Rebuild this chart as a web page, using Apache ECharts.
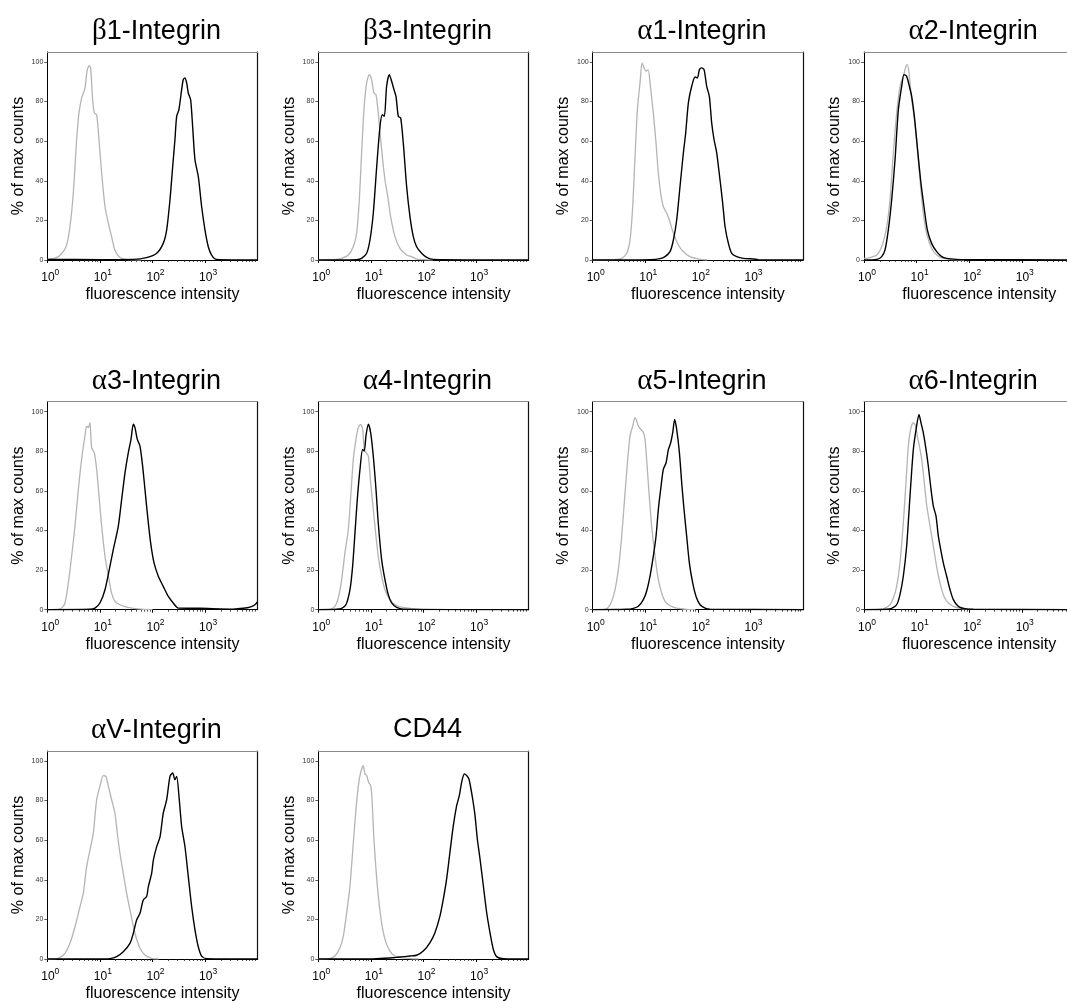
<!DOCTYPE html>
<html><head><meta charset="utf-8">
<script src="https://cdn.jsdelivr.net/npm/echarts@6/dist/echarts.min.js"></script>
<style>html,body{margin:0;padding:0;background:#fff}#c{width:1067px;height:1001px}</style>
</head><body><div id="c"></div>
<script>
// ---------- DATA ----------
const titles = ['β1-Integrin','β3-Integrin','α1-Integrin','α2-Integrin','α3-Integrin','α4-Integrin','α5-Integrin','α6-Integrin','αV-Integrin','CD44'];
const xMajorTicks = [1, 10, 100, 1000];
const xMinorTicks = [2,3,4,5,6,7,8,9,20,30,40,50,60,70,80,90,200,300,400,500,600,700,800,900,2000,3000,4000,5000,6000,7000,8000,9000];
const yTicks = [0, 20, 40, 60, 80, 100];

// [fluorescence intensity, % of max counts]; control = grey, stained = black
const beta1Control = [[1,0.3],[1.3,0.7],[1.62,1.7],[2.01,4.2],[2.33,7.6],[2.7,16.9],[3.12,33.7],[3.61,60.7],[4.0,74.2],[4.5,81.8],[5.2,86.8],[5.75,96.1],[6.28,98.1],[6.67,97.0],[7.28,80.9],[7.83,74.2],[8.67,73.4],[9.6,60.7],[10.8,43.8],[12.5,27.0],[14.5,18.5],[16.7,11.8],[19.3,5.1],[24,1.3],[32.2,0.3],[60,0]];
const beta1Stained = [[1,0.3],[10,0.2],[43,0.3],[77,1.2],[120,3.4],[160,8.4],[186,15.2],[215,30.4],[242,47.2],[267,60.7],[288,72.5],[318,75.9],[358,86.0],[385,91.1],[414,91.9],[446,89.4],[479,84.3],[531,80.9],[579,67.5],[642,50.6],[742,42.2],[859,27.0],[994,15.2],[1150,6.7],[1331,2.5],[1656,0.3],[10000,0]];
const beta3Control = [[1,0],[2.23,0.3],[2.78,0.8],[3.72,2.5],[4.63,6.7],[5.35,13.5],[6.02,30.4],[6.66,54.0],[7.38,75.9],[8.3,89.4],[9.32,93.6],[10.3,91.1],[11.4,84.3],[12.5,83.5],[13.8,74.2],[16.0,55.6],[18.5,40.5],[21.4,30.4],[23.7,21.9],[28.7,11.8],[35.7,5.9],[47.8,2.5],[59.5,1.7],[74,0.5],[99,0.2],[150,0]];
const beta3Stained = [[1,0],[5.35,0.2],[6.66,0.8],[8.3,3.4],[9.6,10.1],[11.1,23.6],[12.9,47.2],[14.9,67.5],[16.5,73.4],[18.0,72.5],[19.9,87.7],[22.4,93.6],[24.8,90.2],[27.5,86.0],[30.0,82.6],[33.2,72.5],[36.8,71.7],[41.3,59.0],[47.8,37.1],[55.3,21.9],[64,11.8],[74,6.7],[92.2,3.4],[115,1.3],[153,0.3],[10000,0]];
const alpha1Control = [[1,0],[2.86,0.3],[3.56,0.8],[4.43,3.4],[5.13,10.1],[5.76,27.0],[6.38,52.3],[7.07,75.9],[7.94,89.4],[8.67,99.5],[9.46,97.0],[10.3,95.3],[11.3,96.1],[12.3,89.4],[14.2,74.2],[16.0,59.0],[17.7,43.8],[19.6,33.7],[22.0,27.0],[25.5,23.6],[28.7,20.2],[34.2,13.5],[42.6,7.6],[52.9,4.2],[70.8,1.7],[110,0.3],[150,0]];
const alpha1Stained = [[1,0],[12.3,0.2],[19.1,0.7],[23.7,1.7],[29.5,4.2],[34.2,10.1],[39.5,20.2],[45.7,37.1],[52.9,54.0],[58.6,64.1],[65.9,79.3],[76.2,87.7],[88.3,92.4],[97.7,91.9],[107,96.1],[118,97.0],[131,96.1],[147,87.7],[165,82.6],[183,69.1],[203,60.7],[228,54.0],[263,40.5],[296,28.7],[328,16.9],[380,8.4],[439,3.4],[547,1.7],[731,0.8],[1132,0.5],[1408,0.2],[10000,0]];
const alpha2Control = [[1,0.8],[1.3,1.2],[1.74,2.5],[2.17,6.7],[2.7,16.9],[3.12,30.4],[3.61,54.0],[4.18,74.2],[4.83,87.7],[5.59,92.7],[6.28,97.8],[6.67,98.6],[7.17,94.4],[8.06,80.9],[8.93,72.5],[10.0,60.7],[11.6,40.5],[13.4,23.6],[15.5,13.5],[19.3,5.9],[24.1,2.5],[32.2,0.8],[49.9,0.2],[80,0]];
const alpha2Stained = [[1,0],[1.74,0.3],[2.17,1.7],[2.51,5.1],[2.9,15.2],[3.36,30.4],[3.89,50.6],[4.5,75.9],[5.2,87.7],[5.76,93.6],[6.47,92.7],[7.28,87.7],[8.06,82.6],[9.06,72.5],[10.3,57.3],[11.9,40.5],[13.8,27.0],[16.0,15.2],[19.3,8.4],[24.1,4.2],[30,1.7],[37.3,0.8],[57.8,0.3],[89.5,0.2],[10000,0]];
const alpha3Control = [[1,0],[1.62,0.3],[1.87,0.8],[2.17,3.4],[2.51,13.5],[2.9,27.0],[3.36,42.2],[3.89,60.7],[4.49,75.9],[5.2,87.7],[5.59,92.7],[6.02,91.9],[6.47,94.4],[6.96,81.8],[7.83,79.3],[8.67,70.8],[9.75,55.6],[10.8,42.2],[12.5,27.0],[14.5,16.9],[16.7,8.4],[19.3,4.2],[24,2.5],[32.2,1.3],[43.2,0.7],[66.8,0.2],[100,0]];
const alpha3Stained = [[1,0],[6.47,0.2],[8.06,0.8],[10,3.4],[12.5,10.1],[15.5,21.9],[18,30.4],[22.4,42.2],[25.9,55.6],[30,69.1],[34.7,79.3],[39,86.0],[43.2,93.6],[46.4,91.9],[51.4,86.0],[57.8,82.6],[64.9,72.5],[71.9,60.7],[80.8,47.2],[92.2,33.7],[107,23.6],[129,16.9],[160,11.8],[200,6.7],[248,3.4],[309,0.8],[798,0.7],[3436,0.3],[5321,0.7],[7129,1.3],[8878,2.5],[10000,4.0]];
const alpha4Control = [[1,0],[1.67,0.2],[2.07,1.7],[2.4,5.9],[2.78,15.2],[3.21,28.7],[3.72,40.5],[4.18,59.0],[4.63,75.9],[5.2,86.0],[5.76,91.9],[6.38,93.6],[6.96,91.1],[7.49,80.9],[8.06,79.3],[8.93,77.6],[9.89,64.1],[11.1,50.6],[12.5,37.1],[13.8,27.0],[16.0,16.9],[18.5,10.1],[23.0,5.1],[28.7,2.5],[38.4,1.3],[55.3,0.7],[85.7,0.2],[120,0]];
const alpha4Stained = [[1,0],[2.23,0.2],[2.78,0.7],[3.36,2.5],[4.0,10.1],[4.49,21.9],[4.98,38.8],[5.51,55.6],[6.2,70.8],[6.96,80.9],[7.49,80.1],[8.06,87.7],[8.93,93.6],[9.89,89.4],[11.1,77.6],[12.5,60.7],[13.8,43.8],[16.0,25.3],[18.5,15.2],[21.4,7.6],[24.8,3.4],[30.9,1.2],[41.3,0.3],[10000,0]];
const alpha5Control = [[1,0],[1.72,0.2],[1.99,1.3],[2.3,4.2],[2.66,10.1],[3.07,20.2],[3.56,37.1],[4.12,59.0],[4.63,75.9],[5.13,87.7],[5.76,92.7],[6.38,97.0],[6.87,95.3],[7.38,92.7],[8.18,91.1],[9.19,89.4],[9.89,86.0],[10.6,75.9],[11.9,57.3],[13.2,42.2],[15.3,27.0],[17.7,15.2],[20.5,8.4],[23.7,4.2],[29.5,2.0],[39.5,0.8],[61.2,0.2],[90,0]];
const alpha5Stained = [[1,0],[4.43,0.2],[5.93,0.7],[7.38,1.7],[9.19,5.1],[10.6,9.3],[12.3,16.9],[14.2,27.0],[16.0,37.1],[17.7,50.6],[19.6,60.7],[22.0,70.8],[24.8,74.2],[27.5,80.9],[30.4,84.3],[33.2,89.4],[36.2,96.1],[39.5,91.1],[44.5,79.3],[49.2,64.1],[54.5,50.6],[61.2,37.1],[68.8,23.6],[79.6,13.5],[92.2,6.7],[110,2.5],[137,0.8],[170,0.3],[10000,0]];
const alpha6Control = [[1,0],[2.01,0.2],[2.51,0.8],[3.12,2.5],[3.61,5.9],[4.18,11.8],[4.83,23.6],[5.59,43.8],[6.28,64.1],[6.96,82.6],[7.71,91.1],[8.67,94.4],[9.6,92.7],[10.3,87.7],[11.3,82.6],[12.5,75.9],[13.8,65.8],[15.5,53.1],[18.0,42.2],[20.8,32.0],[24.0,21.9],[27.8,13.5],[33.2,6.7],[40.1,3.4],[49.9,1.7],[66.8,0.7],[104,0.2],[150,0]];
const alpha6Stained = [[1,0],[2.7,0.2],[3.36,0.7],[4.18,2.5],[4.83,7.6],[5.59,16.9],[6.47,32.0],[7.49,57.3],[8.67,80.9],[10.0,92.7],[11.1,98.6],[12.1,94.4],[13.4,89.4],[15.1,80.9],[16.7,72.5],[18.8,60.7],[20.8,52.3],[23.4,47.2],[25.9,37.1],[28.7,30.4],[32.2,23.6],[37.3,16.9],[43.2,10.1],[49.9,5.1],[62.1,1.7],[83.2,0.5],[120,0.2],[10000,0]];
const alphaVControl = [[1,0],[1.5,0.2],[1.74,0.8],[2.17,2.9],[2.7,7.9],[3.36,16.3],[4.18,26.3],[4.83,33.1],[5.59,46.5],[6.47,55.0],[7.49,63.4],[8.67,80.4],[10.0,87.2],[11.6,92.6],[13.0,92.2],[14.5,87.2],[16.7,80.4],[19.3,73.7],[21.4,63.6],[24.0,53.5],[27.8,43.3],[32.2,33.2],[38.4,23.1],[46.4,13.0],[57.8,5.4],[71.9,2.0],[96.3,0.3],[130,0]];
const alphaVStained = [[1,0],[10,0],[15.5,0.2],[20.8,1.2],[27.8,3.7],[37.3,7.9],[43.2,13.0],[49.9,19.7],[57.8,23.1],[66.8,29.8],[77.4,31.5],[83.2,36.4],[96.3,43.2],[104,50.0],[120,56.7],[139,61.7],[160,73.5],[186,80.4],[215,92.2],[242,93.9],[267,90.5],[288,92.2],[323,80.4],[358,66.9],[414,56.8],[479,41.6],[555,26.5],[642,14.7],[742,6.2],[859,1.5],[1069,0.2],[10000,0]];
const cd44Control = [[1,0],[1.67,0.3],[2.07,1.5],[2.58,5.7],[2.99,11.5],[3.46,23.3],[4.0,36.8],[4.63,58.7],[5.2,75.5],[5.76,87.3],[6.38,94.1],[7.17,97.6],[7.71,93.4],[8.3,92.6],[9.06,89.2],[9.89,87.5],[10.5,80.9],[11.4,60.7],[12.9,40.5],[14.5,26.9],[16.7,15.2],[19.3,8.4],[23.0,4.0],[28.7,1.5],[38.4,0.7],[55.3,0.2],[80,0]];
const cd44Stained = [[1,0],[9.6,0],[14.9,0.3],[23.0,0.5],[30.9,0.8],[41.3,1.2],[55.3,1.5],[74,1.9],[99.1,4.0],[133,8.3],[165,13.3],[206,21.8],[238,30.2],[275,40.3],[318,53.8],[369,67.3],[427,77.4],[480,82.5],[531,89.2],[597,93.4],[661,92.6],[731,90.9],[787,86.7],[859,80.9],[953,72.5],[1054,60.7],[1186,50.6],[1371,37.1],[1585,23.6],[1836,13.3],[2123,4.9],[2455,1.2],[3289,0.2],[10000,0]];

const controlSeries = [beta1Control, beta3Control, alpha1Control, alpha2Control, alpha3Control, alpha4Control, alpha5Control, alpha6Control, alphaVControl, cd44Control];
const stainedSeries = [beta1Stained, beta3Stained, alpha1Stained, alpha2Stained, alpha3Stained, alpha4Stained, alpha5Stained, alpha6Stained, alphaVStained, cd44Stained];

// ---------- LAYOUT ----------
const FONT = 'Liberation Sans, Arial, Helvetica, sans-serif';
const colLeft = [47.3, 318.3, 592.7, 864];
const rowTop = [52, 401.7, 751];
const W = 210.4, H = 208;
const X_MIN = 1, X_MAX = 10000, Y_MIN = 0, Y_MAX = 105;

const option = { animation: false, backgroundColor: '#fff', title: [], grid: [], xAxis: [], yAxis: [], series: [] };

titles.forEach((t, i) => {
  const r = Math.floor(i / 4), c = i % 4;
  const left = colLeft[c], top = rowTop[r];
  const greek = /^[αβ]/.test(t);
  option.title.push({
    text: greek ? '{g|' + t[0] + '}' + t.slice(1) : t,
    left: left + W / 2 + 4, top: top - 35, textAlign: 'center', padding: 0,
    textStyle: { fontFamily: FONT, fontSize: 27, fontWeight: 'normal', color: '#000',
      rich: { g: { fontFamily: 'Liberation Serif, DejaVu Serif, serif', fontSize: 29, color: '#000' } } }
  });
  option.grid.push({ left: left, top: top, width: W, height: H, containLabel: false, outerBoundsMode: 'none' });
  const xi = option.xAxis.length, yi = option.yAxis.length;
  // main bottom axis
  option.xAxis.push({
    type: 'log', logBase: 10, gridIndex: i, min: X_MIN, max: X_MAX, position: 'bottom',
    name: 'fluorescence intensity', nameLocation: 'middle', nameGap: 27,
    nameTextStyle: { fontFamily: FONT, fontSize: 16, color: '#000', padding: [0, 0, 0, 20] },
    axisLine: { show: true, lineStyle: { color: '#000', width: 1 } },
    axisTick: { show: true, length: 3, inside: false, customValues: xMajorTicks, lineStyle: { color: '#000', width: 1 } },
    axisLabel: {
      show: true, margin: 8, customValues: xMajorTicks, padding: [0, 0, 0, 6],
      formatter: v => { const e = Math.round(Math.log10(v)); return e >= 4 ? '' : '{b|10}{s|' + e + '}'; },
      rich: {
        b: { fontFamily: FONT, fontSize: 12, color: '#000', lineHeight: 16, verticalAlign: 'bottom' },
        s: { fontFamily: FONT, fontSize: 8.5, color: '#000', lineHeight: 16, verticalAlign: 'top' }
      }
    },
    splitLine: { show: false }
  });
  // minor ticks axis
  option.xAxis.push({
    type: 'log', logBase: 10, gridIndex: i, min: X_MIN, max: X_MAX, position: 'bottom',
    axisLine: { show: false },
    axisTick: { show: true, length: 2, inside: false, customValues: xMinorTicks, lineStyle: { color: '#222', width: 0.8 } },
    axisLabel: { show: false }, splitLine: { show: false }
  });
  // top border
  option.xAxis.push({
    type: 'log', logBase: 10, gridIndex: i, min: X_MIN, max: X_MAX, position: 'top',
    axisLine: { show: true, lineStyle: { color: '#8a8a8a', width: 1.2 } },
    axisTick: { show: false }, axisLabel: { show: false }, splitLine: { show: false }
  });
  option.yAxis.push({
    type: 'value', gridIndex: i, min: Y_MIN, max: Y_MAX, interval: 20, position: 'left',
    name: '% of max counts', nameLocation: 'middle', nameGap: 21, nameRotate: 90,
    nameTextStyle: { fontFamily: FONT, fontSize: 16, color: '#000' },
    axisLine: { show: true, lineStyle: { color: '#000', width: 1 } },
    axisTick: { show: true, length: 3, inside: false, customValues: yTicks, lineStyle: { color: '#333', width: 0.8 } },
    axisLabel: { show: true, margin: 4, customValues: yTicks, fontFamily: FONT, fontSize: 7, color: '#333',
      formatter: v => (v > 100 ? '' : String(v)) },
    splitLine: { show: false }
  });
  option.yAxis.push({
    type: 'value', gridIndex: i, min: Y_MIN, max: Y_MAX, position: 'right',
    axisLine: { show: true, lineStyle: { color: '#111', width: 1.2 } },
    axisTick: { show: false }, axisLabel: { show: false }, splitLine: { show: false }
  });
  option.series.push({
    type: 'line', xAxisIndex: xi, yAxisIndex: yi, data: controlSeries[i], showSymbol: false, symbol: 'none',
    smooth: 0.25, lineStyle: { color: '#b4b4b4', width: 1.3 }, z: 2, silent: true
  });
  option.series.push({
    type: 'line', xAxisIndex: xi, yAxisIndex: yi, data: stainedSeries[i], showSymbol: false, symbol: 'none',
    smooth: 0.25, lineStyle: { color: '#000', width: 1.4 }, z: 3, silent: true
  });
});

const chart = echarts.init(document.getElementById('c'), null, { renderer: 'canvas' });
chart.setOption(option);
</script></body></html>
